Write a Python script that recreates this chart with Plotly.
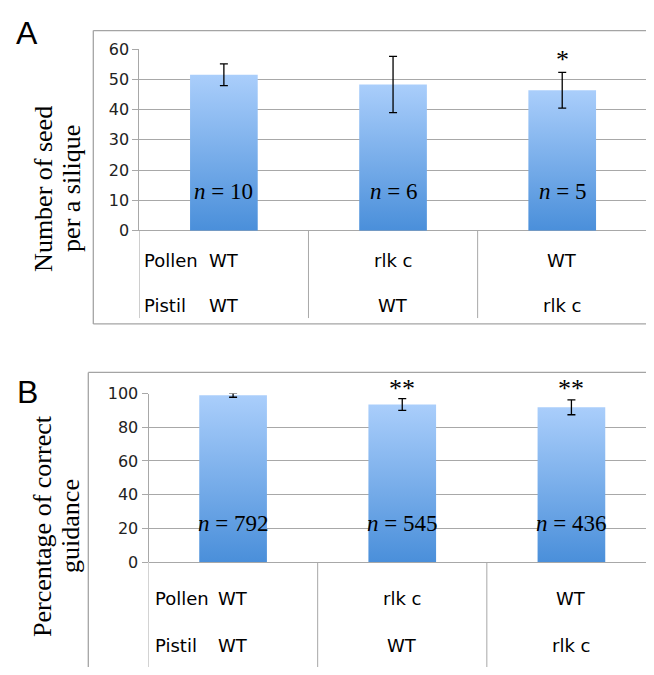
import plotly.graph_objects as go

# ---------------- data ----------------
pollen = ["WT", "rlk c", "WT"]
pistil = ["WT", "WT", "rlk c"]

seed_mean = [51.5, 48.3, 46.4]
seed_err = [3.6, 9.3, 5.9]
seed_n = ["10", "6", "5"]
seed_sig = ["", "", "*"]

guid_mean = [99.0, 93.5, 91.8]
guid_err = [1.2, 3.5, 4.4]
guid_n = ["792", "545", "436"]
guid_sig = ["", "**", "**"]

# ---------------- geometry helpers ----------------
# page body has an 8px margin; figure sized so the page is exactly the window
OX, OY = 8, 8
W, H = 654 - 2 * OX, 675 - 2 * OY
def xp(px):
    return (px - OX) / W
def yp(py):
    return 1 - (py - OY) / H

GRID = "#a8a8a8"
BOX = "#a4a4a4"
BAR_TOP = "#aacefb"
BAR_BOT = "#4a8fda"
SANS = "DejaVu Sans"
SERIF = "Liberation Serif"
HALF = 0.2  # half bar width in category units

fig = go.Figure()

def add_panel(means, errs, xa, ya):
    idx = list(range(len(means)))
    for i, v in zip(idx, means):
        fig.add_trace(go.Scatter(
            x=[i - HALF, i + HALF, i + HALF, i - HALF, i - HALF],
            y=[0, 0, v, v, 0],
            mode="lines", line=dict(width=0),
            fill="toself",
            fillgradient=dict(type="vertical",
                              colorscale=[[0, BAR_BOT], [1, BAR_TOP]]),
            xaxis=xa, yaxis=ya, showlegend=False, hoverinfo="skip"))
    fig.add_trace(go.Scatter(
        x=idx, y=means, mode="markers",
        marker=dict(size=1, color="rgba(0,0,0,0)"),
        error_y=dict(type="data", array=errs, color="black",
                     thickness=1.3, width=4),
        xaxis=xa, yaxis=ya, showlegend=False, hoverinfo="skip"))

add_panel(seed_mean, seed_err, "x", "y")
add_panel(guid_mean, guid_err, "x2", "y2")

# panel geometry (reference pixels)
A_left, A_right, A_top, A_zero, A_tab_bot = 139.3, 646.8, 41.0, 228.0, 318.0
B_left, B_top, B_zero = 148.5, 395.7, 569.3
unit = (A_right - A_left) / 3.0
right_px = W + OX
A_end = min(A_right, right_px)
B_end = right_px

axis_common = dict(showgrid=True, gridcolor=GRID, gridwidth=1,
                   zeroline=True, zerolinecolor=GRID, zerolinewidth=1,
                   showline=True, linecolor=GRID, linewidth=1,
                   ticks="outside", ticklen=6, tickcolor=GRID, tickwidth=1,
                   tickfont=dict(family=SANS, size=16, color="#222"),
                   fixedrange=True)

fig.update_layout(
    width=W, height=H,
    margin=dict(l=0, r=0, t=0, b=0),
    paper_bgcolor="white", plot_bgcolor="white",
    showlegend=False,
    xaxis=dict(domain=[xp(A_left), xp(A_end)],
               range=[-0.5, -0.5 + (A_end - A_left) / unit],
               showticklabels=False, showgrid=False, zeroline=False,
               showline=False, ticks="", anchor="y"),
    yaxis=dict(domain=[yp(A_zero), yp(A_top)], range=[0, 60], dtick=10,
               anchor="x", **axis_common),
    xaxis2=dict(domain=[xp(B_left), xp(B_end)],
                range=[-0.5, -0.5 + (B_end - B_left) / unit],
                showticklabels=False, showgrid=False, zeroline=False,
                showline=False, ticks="", anchor="y2"),
    yaxis2=dict(domain=[yp(B_zero), yp(B_top)], range=[0, 100], dtick=20,
                anchor="x2", **axis_common),
)

shapes = []
def line(x0, y0, x1, y1, color=BOX, w=1.3):
    shapes.append(dict(type="line", xref="paper", yref="paper",
                       x0=xp(x0), y0=yp(y0), x1=xp(x1), y1=yp(y1),
                       line=dict(color=color, width=w)))

# outer boxes
line(93.3, 22, 700, 22)
line(93.3, 22, 93.3, 324)
line(93.3, 324, 700, 324)
line(88.3, 374, 700, 374)
line(88.3, 374, 88.3, 700)

# table dividers
for k in range(4):
    shapes.append(dict(type="line", xref="x", yref="paper",
                       x0=k - 0.5, x1=k - 0.5, y0=yp(A_zero), y1=yp(A_tab_bot),
                       line=dict(color=GRID, width=1)))
    shapes.append(dict(type="line", xref="x2", yref="paper",
                       x0=k - 0.5, x1=k - 0.5, y0=yp(B_zero), y1=yp(700),
                       line=dict(color=GRID, width=1)))
fig.update_layout(shapes=shapes)

ann = []
def text(x, y, s, size, family=SANS, xref="paper", xanchor="center",
         angle=0, color="black"):
    ann.append(dict(x=x, y=y, xref=xref, yref="paper", text=s,
                    showarrow=False, xanchor=xanchor, yanchor="middle",
                    textangle=angle,
                    font=dict(family=family, size=size, color=color)))

# panel letters
text(xp(27), yp(24), "A", 32, family="Liberation Sans")
text(xp(27), yp(394), "B", 32, family="Liberation Sans")

# y titles
text(xp(44), yp(185), "Number of seed", 26, family=SERIF, angle=-90)
text(xp(72), yp(185), "per a silique", 26, family=SERIF, angle=-90)
text(xp(43), yp(532), "Percentage of correct", 26, family=SERIF, angle=-90)
text(xp(71), yp(532), "guidance", 26, family=SERIF, angle=-90)

# table rows
text(xp(142), yp(259), "Pollen", 18, xanchor="left")
text(xp(142), yp(305), "Pistil", 18, xanchor="left")
text(xp(153), yp(607), "Pollen", 18, xanchor="left")
text(xp(153), yp(655), "Pistil", 18, xanchor="left")
for i in range(3):
    text(i, yp(259), pollen[i], 18, xref="x")
    text(i, yp(305), pistil[i], 18, xref="x")
    text(i, yp(607), pollen[i], 18, xref="x2")
    text(i, yp(655), pistil[i], 18, xref="x2")
    text(i, yp(188), "<i>n</i> = " + seed_n[i], 23, family=SERIF, xref="x")
    text(i, yp(530), "<i>n</i> = " + guid_n[i], 23, family=SERIF, xref="x2")
    if seed_sig[i]:
        text(i, yp(52), seed_sig[i], 26, family=SERIF, xref="x")
    if guid_sig[i]:
        text(i, yp(391), guid_sig[i], 26, family=SERIF, xref="x2")

fig.update_layout(annotations=ann)
fig.write_html("out.html")
